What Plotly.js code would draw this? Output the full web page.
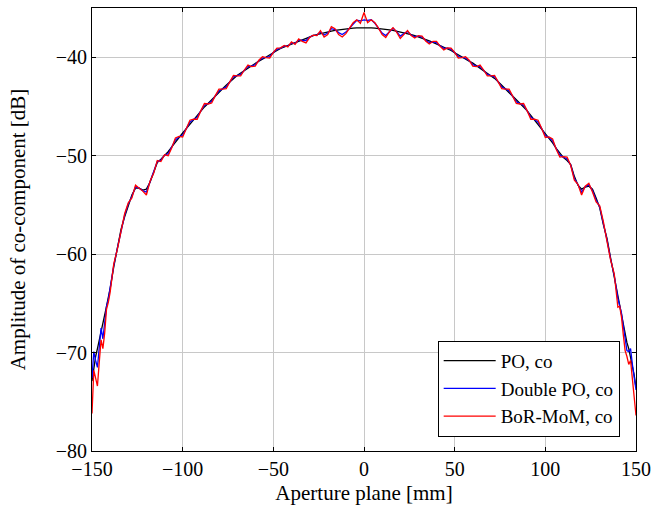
<!DOCTYPE html>
<html>
<head>
<meta charset="utf-8">
<script src="https://cdn.plot.ly/plotly-3.0.1.min.js"></script>
<style>html,body{margin:0;padding:0;background:#fff;}#chart{width:655px;height:513px;}</style>
</head>
<body>
<div id="chart"></div>
<script>
const xAperture = [
-150,-149,-148,-147,-146,-145,-144,-143,-142,-141,-140,
-138,-136,-134,-132,-130,-128,-126,-124,-122,-120,
-118,-116,-114,-112,-110,-108,-106,-104,-102,-100,
-98,-96,-94,-92,-90,-88,-86,-84,-82,-80,
-78,-76,-74,-72,-70,-68,-66,-64,-62,-60,
-58,-56,-54,-52,-50,-48,-46,-44,-42,-40,
-38,-36,-34,-32,-30,-28,-26,-24,-22,-20,
-18,-16,-14,-12,-10,-8,-6,-4,-2,
0,
2,4,6,8,10,12,14,16,18,20,
22,24,26,28,30,32,34,36,38,40,
42,44,46,48,50,52,54,56,58,60,
62,64,66,68,70,72,74,76,78,80,
82,84,86,88,90,92,94,96,98,100,
102,104,106,108,110,112,114,116,118,120,
122,124,126,128,130,132,134,136,138,
140,141,142,143,144,145,146,147,148,149,150
];
const poCo = [
-72.9,-71.5,-70.4,-69.6,-68.8,-68.0,-67.2,-66.3,-65.3,-64.4,-63.5,
-61.3,-59.3,-57.5,-56.2,-55.0,-54.0,-53.3,-53.3,-53.5,-53.4,
-52.7,-51.6,-50.7,-50.35,-50.0,-49.6,-49.1,-48.6,-48.15,-47.7,
-47.25,-46.8,-46.35,-45.9,-45.45,-45.05,-44.7,-44.3,-43.95,-43.6,
-43.2,-42.85,-42.5,-42.15,-41.85,-41.6,-41.35,-41.1,-40.85,-40.6,
-40.4,-40.2,-40.0,-39.78,-39.55,-39.32,-39.1,-38.95,-38.8,-38.65,
-38.5,-38.35,-38.2,-38.05,-37.92,-37.8,-37.7,-37.6,-37.5,-37.42,
-37.35,-37.28,-37.22,-37.17,-37.12,-37.08,-37.05,-37.02,-37.01,
-37.0,
-37.01,-37.02,-37.05,-37.08,-37.12,-37.17,-37.22,-37.28,-37.35,-37.42,
-37.5,-37.6,-37.7,-37.8,-37.92,-38.05,-38.2,-38.35,-38.5,-38.65,
-38.8,-38.95,-39.1,-39.32,-39.55,-39.78,-40.0,-40.2,-40.4,-40.6,
-40.85,-41.1,-41.35,-41.6,-41.85,-42.15,-42.5,-42.85,-43.2,-43.6,
-44.0,-44.35,-44.7,-45.05,-45.45,-45.9,-46.35,-46.8,-47.25,-47.75,
-48.2,-48.7,-49.25,-49.75,-50.2,-50.5,-50.9,-52.1,-53.0,-53.4,
-53.2,-53.1,-53.4,-54.3,-55.3,-57.0,-58.4,-60.4,-62.3,
-64.3,-65.2,-66.2,-67.2,-68.2,-69.0,-69.6,-70.4,-71.2,-72.3,-73.6
];
const doublePoCo = [
-72.6,-69.9,-70.8,-71.5,-69.5,-67.5,-68.6,-67.2,-65.3,-64.6,-63.4,
-61.15,-59.4,-57.65,-56.05,-54.9,-54.15,-53.15,-53.3,-53.55,-53.7,
-52.65,-51.7,-50.6,-50.45,-49.95,-49.8,-49.15,-48.4,-48.1,-47.9,
-47.25,-46.6,-46.33,-46.1,-45.45,-44.88,-44.72,-44.48,-43.93,-43.42,
-43.22,-43.02,-42.5,-42.0,-41.88,-41.75,-41.33,-40.95,-40.9,-40.75,
-40.35,-40.08,-40.02,-39.93,-39.52,-39.2,-39.08,-38.88,-38.88,-38.55,
-38.6,-38.25,-38.3,-38.3,-37.96,-37.78,-37.75,-37.45,-37.75,-37.55,
-37.1,-37.2,-37.5,-37.7,-37.45,-37.05,-36.6,-36.25,-36.3,
-36.2,
-36.25,-36.2,-36.55,-37.05,-37.55,-37.8,-37.4,-37.05,-37.4,-37.85,
-37.6,-37.4,-37.75,-37.92,-37.86,-37.95,-38.28,-38.5,-38.45,-38.52,
-38.85,-39.1,-39.08,-39.2,-39.52,-39.93,-40.02,-40.08,-40.35,-40.75,
-40.9,-40.95,-41.33,-41.75,-41.88,-42.0,-42.5,-43.02,-43.22,-43.42,
-43.97,-44.52,-44.72,-44.88,-45.45,-46.1,-46.33,-46.6,-47.25,-47.95,
-48.15,-48.5,-49.3,-49.95,-50.15,-50.33,-50.95,-52.3,-52.95,-53.7,
-53.15,-52.95,-53.55,-54.5,-55.2,-56.85,-58.55,-60.5,-62.15,
-64.5,-65.2,-66.0,-67.3,-68.8,-69.8,-69.9,-69.6,-71.2,-72.5,-73.8
];
const borMomCo = [
-76.2,-71.8,-72.6,-73.4,-71.0,-68.7,-69.6,-68.0,-65.6,-64.9,-63.9,
-61.0,-59.5,-57.8,-55.9,-54.8,-54.3,-53.0,-53.3,-53.6,-54.0,
-52.6,-51.8,-50.5,-50.6,-49.9,-50.0,-49.2,-48.2,-48.05,-48.1,
-47.25,-46.4,-46.3,-46.3,-45.45,-44.7,-44.75,-44.65,-43.9,-43.25,
-43.25,-43.2,-42.5,-41.85,-41.9,-41.9,-41.3,-40.8,-40.95,-40.9,
-40.3,-39.95,-40.05,-40.08,-39.5,-39.07,-39.05,-38.8,-38.95,-38.45,
-38.7,-38.15,-38.4,-38.55,-38.0,-37.75,-37.8,-37.3,-37.95,-37.7,
-36.9,-37.1,-37.7,-37.95,-37.6,-37.0,-36.5,-36.2,-36.55,
-35.45,
-36.5,-36.2,-36.5,-37.05,-37.7,-38.0,-37.4,-37.0,-37.45,-38.1,
-37.7,-37.3,-37.8,-38.05,-37.8,-37.85,-38.35,-38.65,-38.4,-38.4,
-38.9,-39.25,-39.05,-39.07,-39.5,-40.08,-40.05,-39.95,-40.3,-40.9,
-40.95,-40.8,-41.3,-41.9,-41.9,-41.85,-42.5,-43.2,-43.25,-43.25,
-43.95,-44.7,-44.75,-44.7,-45.45,-46.3,-46.3,-46.4,-47.25,-48.15,
-48.1,-48.3,-49.35,-50.15,-50.1,-50.15,-51.0,-52.5,-52.9,-54.0,
-53.1,-52.8,-53.7,-54.7,-55.1,-56.7,-58.7,-60.6,-62.0,
-65.4,-65.3,-66.4,-68.2,-69.8,-70.4,-71.2,-70.8,-72.8,-74.8,-76.4
];
const seriesNames = ['PO, co', 'Double PO, co', 'BoR-MoM, co'];
const xTicks = [-150, -100, -50, 0, 50, 100, 150];
const yTicks = [-80, -70, -60, -50, -40];

const FONT = '"Liberation Serif", "Times New Roman", serif';
const FS = 20;
const traces = [
  {x: xAperture, y: poCo, name: seriesNames[0], mode: 'lines', line: {color: '#000000', width: 1.3}},
  {x: xAperture, y: doublePoCo, name: seriesNames[1], mode: 'lines', line: {color: '#0000ff', width: 1.3}},
  {x: xAperture, y: borMomCo, name: seriesNames[2], mode: 'lines', line: {color: '#ff0000', width: 1.3}}
];
const axisCommon = {
  showline: true, linecolor: '#000', linewidth: 1, mirror: 'allticks',
  ticks: 'inside', ticklen: 4, tickcolor: '#000',
  showgrid: true, gridcolor: '#c8c8c8', gridwidth: 1, zeroline: false,
  tickfont: {family: FONT, size: FS, color: '#000'}
};
const layout = {
  width: 655, height: 513,
  margin: {l: 92, r: 19, t: 8, b: 62},
  paper_bgcolor: '#fff', plot_bgcolor: '#fff',
  font: {family: FONT, size: FS, color: '#000'},
  showlegend: true,
  legend: {
    x: 0.97, y: 0.032, xanchor: 'right', yanchor: 'bottom',
    bordercolor: '#000', borderwidth: 1, bgcolor: '#fff',
    itemwidth: 52,
    font: {family: FONT, size: 19, color: '#000'}
  },
  xaxis: Object.assign({}, axisCommon, {
    range: [-150, 150], tickmode: 'array', tickvals: xTicks,
    title: {text: 'Aperture plane [mm]', font: {family: FONT, size: 21}, standoff: 6}
  }),
  yaxis: Object.assign({}, axisCommon, {
    range: [-80, -35], tickmode: 'array', tickvals: yTicks,
    title: {text: 'Amplitude of co-component [dB]', font: {family: FONT, size: 21}, standoff: 24}
  })
};
Plotly.newPlot('chart', traces, layout, {displayModeBar: false, staticPlot: true});
</script>
</body>
</html>
